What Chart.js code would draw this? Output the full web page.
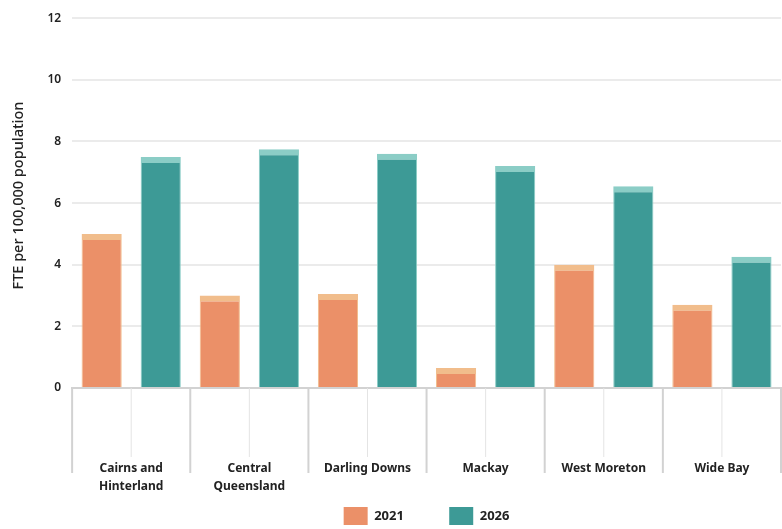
<!DOCTYPE html>
<html>
<head>
<meta charset="utf-8">
<script src="https://cdn.jsdelivr.net/npm/chart.js@4/dist/chart.umd.min.js"></script>
<style>
  html, body { margin: 0; padding: 0; background: #fff; }
  #wrap { width: 782px; height: 529px; }
</style>
</head>
<body>
<div id="wrap"><canvas id="chart"></canvas></div>
<script>
// datos
const regions = [
  ['Cairns and', 'Hinterland'],
  ['Central', 'Queensland'],
  'Darling Downs',
  'Mackay',
  'West Moreton',
  'Wide Bay',
];
const fte2021 = [5.0, 3.0, 3.05, 0.65, 4.0, 2.7];
const fte2026 = [7.5, 7.75, 7.6, 7.2, 6.55, 4.26];
const yTicks  = [0, 2, 4, 6, 8, 10, 12];

const FONT = '"Noto Sans", "DejaVu Sans", sans-serif';

// líneas separadoras debajo del eje x
const dividers = {
  id: 'dividers',
  afterDraw(chart) {
    const { ctx, scales: { x }, chartArea } = chart;
    const step = x.getPixelForValue(1) - x.getPixelForValue(0);
    const y0 = chartArea.bottom;
    ctx.save();
    for (let i = 0; i < regions.length; i++) {
      const c = x.getPixelForValue(i);
      ctx.strokeStyle = '#e4e4e4';
      ctx.lineWidth = 1;
      ctx.beginPath(); ctx.moveTo(c, y0); ctx.lineTo(c, y0 + 69); ctx.stroke();
    }
    for (let i = 0; i <= regions.length; i++) {
      const b = x.getPixelForValue(i) - step / 2;
      ctx.strokeStyle = '#d2d2d2';
      ctx.lineWidth = 2;
      ctx.beginPath(); ctx.moveTo(b, y0); ctx.lineTo(b, y0 + 85); ctx.stroke();
    }
    ctx.restore();
  },
};

new Chart(document.getElementById('chart'), {
  type: 'bar',
  data: {
    labels: regions,
    datasets: [
      {
        label: '2021',
        data: fte2021,
        backgroundColor: '#eb9068',
        borderColor: '#f1bd8c',
        borderWidth: { top: 6, left: 1, right: 1, bottom: 0 },
        borderSkipped: 'bottom',
        categoryPercentage: 1,
        barPercentage: 0.68,
      },
      {
        label: '2026',
        data: fte2026,
        backgroundColor: '#3d9a96',
        borderColor: '#8bcdc6',
        borderWidth: { top: 6, left: 1, right: 1, bottom: 0 },
        borderSkipped: 'bottom',
        categoryPercentage: 1,
        barPercentage: 0.68,
      },
    ],
  },
  options: {
    responsive: true,
    maintainAspectRatio: false,
    animation: false,
    layout: { padding: { top: 12, right: 1, left: 10, bottom: -6 } },
    plugins: {
      legend: {
        position: 'bottom',
        fullSize: false,
        labels: {
          boxWidth: 24,
          boxHeight: 18,
          padding: 2,
          color: '#222',
          font: { family: FONT, size: 13, weight: 'bold' },
          generateLabels(chart) {
            const items = Chart.defaults.plugins.legend.labels.generateLabels(chart);
            items.forEach((it, i) => {
              it.lineWidth = 0;
              if (i === 0) it.text = it.text + '\u2003\u2003\u2003\u2009\u2009';
            });
            return items;
          },
        },
      },
      tooltip: { enabled: true },
    },
    scales: {
      x: {
        grid: { display: true, drawOnChartArea: false, drawTicks: true, tickLength: 69, color: 'rgba(0,0,0,0)' },
        border: { display: true, color: '#d2d2d2', width: 2 },
        ticks: {
          padding: 3,
          color: '#222',
          maxRotation: 0,
          font: { family: FONT, size: 12, weight: 'bold', lineHeight: 1.5 },
        },
        title: {
          display: true,
          text: '',
          padding: 0,
          font: { size: 4, lineHeight: 1.5 },
        },
      },
      y: {
        min: 0,
        max: 12,
        afterBuildTicks: axis => { axis.ticks = yTicks.map(v => ({ value: v })); },
        grid: { color: '#ebebeb', lineWidth: 2, drawTicks: false },
        border: { display: false },
        ticks: {
          padding: 11,
          color: '#222',
          font: { family: FONT, size: 12, weight: '600' },
        },
        title: {
          display: true,
          text: '    FTE per 100,000 population',
          color: '#222',
          padding: { top: 0, bottom: 9 },
          font: { family: FONT, size: 14.5, weight: '500' },
        },
      },
    },
  },
  plugins: [dividers],
});
</script>
</body>
</html>
